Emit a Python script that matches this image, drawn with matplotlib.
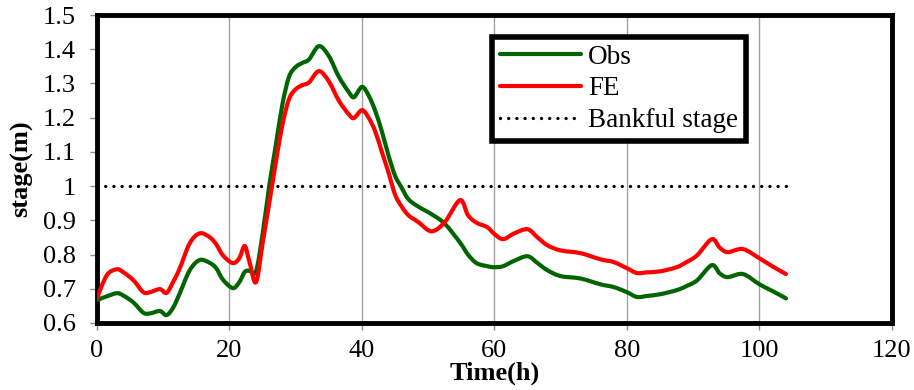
import matplotlib
matplotlib.use("Agg")
import matplotlib.pyplot as plt
from matplotlib.lines import Line2D
from matplotlib.patches import PathPatch
from matplotlib.path import Path
from matplotlib.ticker import FuncFormatter

# Hourly stage record (m)
time_h = [0, 1.5, 3, 4, 5.5, 7, 8, 9.5, 10.5, 11.5, 12.5, 14, 15.5, 17, 18, 19,
          20.5, 21.5, 22.3, 23, 24, 25, 26, 27, 28, 29, 30, 31, 32, 33.5, 35,
          36.5, 38, 38.8, 40, 41, 42, 43, 44, 45, 46, 47, 48.5, 50.5, 52.5,
          54.8, 56, 57.3, 58.9, 60, 61.3, 63, 65, 66.5, 68, 70, 73, 76, 78,
          80, 81.5, 83, 85, 87.5, 89, 90.6, 92.8, 94, 95.2, 97.5, 100, 102, 104]

obs = [0.667, 0.678, 0.687, 0.680, 0.660, 0.630, 0.628, 0.635, 0.623, 0.645,
       0.687, 0.754, 0.784, 0.776, 0.760, 0.727, 0.702, 0.720, 0.749, 0.753,
       0.751, 0.860, 1.000, 1.120, 1.240, 1.320, 1.348, 1.360, 1.370, 1.409,
       1.380, 1.320, 1.275, 1.260, 1.290, 1.265, 1.220, 1.160, 1.090, 1.030,
       0.995, 0.962, 0.940, 0.918, 0.890, 0.835, 0.800, 0.775, 0.766, 0.763,
       0.766, 0.782, 0.795, 0.775, 0.754, 0.737, 0.730, 0.713, 0.705, 0.690,
       0.676, 0.679, 0.684, 0.696, 0.708, 0.725, 0.769, 0.745, 0.734, 0.743,
       0.713, 0.693, 0.672]

fe = [0.673, 0.740, 0.757, 0.748, 0.725, 0.690, 0.690, 0.699, 0.688, 0.720,
      0.760, 0.833, 0.862, 0.851, 0.830, 0.798, 0.775, 0.790, 0.825, 0.780,
      0.719, 0.833, 0.950, 1.070, 1.180, 1.255, 1.283, 1.295, 1.303, 1.336,
      1.306, 1.250, 1.210, 1.199, 1.222, 1.200, 1.160, 1.100, 1.040, 0.975,
      0.940, 0.915, 0.895, 0.868, 0.895, 0.959, 0.915, 0.893, 0.880, 0.860,
      0.845, 0.862, 0.874, 0.850, 0.827, 0.812, 0.804, 0.786, 0.778, 0.760,
      0.746, 0.748, 0.751, 0.763, 0.778, 0.798, 0.845, 0.820, 0.807, 0.816,
      0.789, 0.765, 0.743]

bankful_stage = 1.0
bankful_span = [0, 104]

x_ticks = [0, 20, 40, 60, 80, 100, 120]
y_ticks = [0.6, 0.7, 0.8, 0.9, 1.0, 1.1, 1.2, 1.3, 1.4, 1.5]

OBS_COLOR = "#006400"
FE_COLOR = "#FF0000"


def smooth_path(xs, ys):
    """Spreadsheet-style smoothed line: cubic Bezier segments through the points."""
    n = len(xs)
    verts = [(xs[0], ys[0])]
    codes = [Path.MOVETO]
    for i in range(n - 1):
        i0 = max(i - 1, 0)
        i3 = min(i + 2, n - 1)
        c1 = (xs[i] + (xs[i + 1] - xs[i0]) / 6.0, ys[i] + (ys[i + 1] - ys[i0]) / 6.0)
        c2 = (xs[i + 1] - (xs[i3] - xs[i]) / 6.0, ys[i + 1] - (ys[i3] - ys[i]) / 6.0)
        verts += [c1, c2, (xs[i + 1], ys[i + 1])]
        codes += [Path.CURVE4, Path.CURVE4, Path.CURVE4]
    return Path(verts, codes)


plt.rcParams["font.family"] = ["Liberation Serif", "DejaVu Serif"]

fig = plt.figure(figsize=(9.14, 3.90), dpi=100)
ax = fig.add_axes([0.1061, 0.1718, 0.8698, 0.7897])

for xs, ys, col, z in [(time_h, obs, OBS_COLOR, 3), (time_h, fe, FE_COLOR, 4)]:
    patch = PathPatch(smooth_path(xs, ys), facecolor="none", edgecolor=col,
                      lw=3.0, joinstyle="round", capstyle="round", zorder=z)
    ax.add_patch(patch)

ax.plot(bankful_span, [bankful_stage, bankful_stage], color="black", lw=2.4,
        linestyle=(0, (0.01, 2.45)), dash_capstyle="round", zorder=2)

ax.set_xlim(x_ticks[0], x_ticks[-1])
ax.set_ylim(y_ticks[0], y_ticks[-1])
ax.set_xticks(x_ticks)
ax.set_yticks(y_ticks)
ax.yaxis.set_major_formatter(FuncFormatter(lambda v, p: f"{v:g}"))
ax.xaxis.grid(True, color="#a0a0a0", lw=1.0)
ax.set_axisbelow(True)

ax.tick_params(axis="both", direction="out", length=5, width=1,
               color="#8c8c8c", labelsize=19)
ax.tick_params(axis="y", pad=10)
ax.tick_params(axis="x", pad=7)

for sp in ax.spines.values():
    sp.set_linewidth(3.5)
    sp.set_color("black")

ax.set_xlabel("Time(h)", fontsize=19, fontweight="bold", labelpad=0)
ax.set_ylabel("stage(m)", fontsize=19, fontweight="bold", labelpad=7)

handles = [
    Line2D([], [], color=OBS_COLOR, lw=3.0, solid_capstyle="round"),
    Line2D([], [], color=FE_COLOR, lw=3.0, solid_capstyle="round"),
    Line2D([], [], color="black", lw=2.4, linestyle=(0, (0.01, 2.45)),
           dash_capstyle="round"),
]
leg = ax.legend(handles, ["Obs", "FE", "Bankful stage"], loc="upper left",
                bbox_to_anchor=(0.497, 0.93), fontsize=19.5, frameon=True,
                fancybox=False, framealpha=1, handlelength=3.0,
                handletextpad=0.25, labelspacing=0.25, borderpad=0.3,
                borderaxespad=0)
leg.get_frame().set_edgecolor("black")
leg.get_frame().set_linewidth(4)

fig.savefig("out.png", dpi=100)
